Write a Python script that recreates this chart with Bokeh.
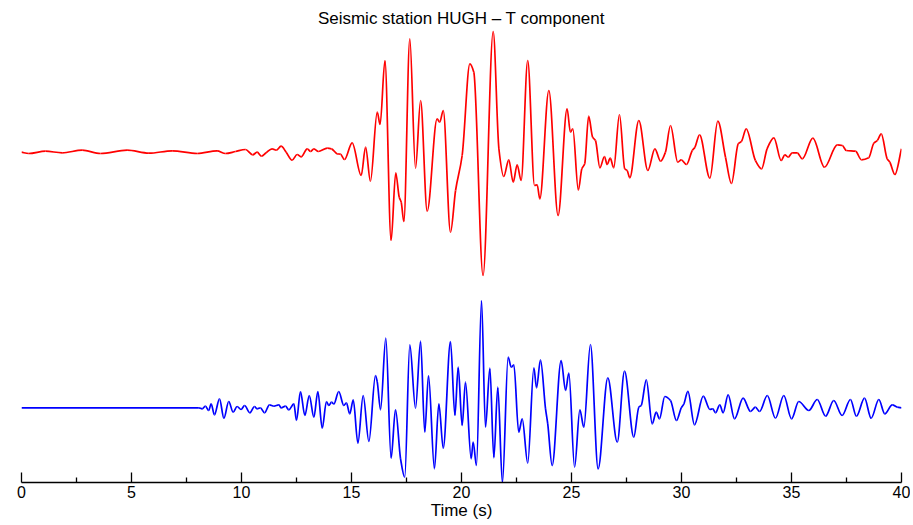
from bokeh.plotting import figure
from bokeh.models import Range1d, FixedTicker, Label, LinearAxis
from bokeh.embed import file_html
from bokeh.resources import INLINE

# ---- data (time in s, amplitude in arbitrary units) ----
red_t = [0.00, 0.33, 1.09, 1.85, 2.76, 3.59, 4.80, 5.79, 6.85, 7.99, 8.89, 9.27, 9.73,
         10.18, 10.51, 10.71, 10.91, 11.12, 11.39, 11.58, 11.80, 12.03, 12.30, 12.53, 12.71,
         12.99, 13.14, 13.29, 13.49, 13.90, 14.09, 14.35, 14.50, 14.68, 15.03, 15.44, 15.64,
         15.86, 16.17, 16.30, 16.52, 16.80, 17.01, 17.17, 17.26, 17.38, 17.65, 17.91, 18.14,
         18.44, 18.89, 19.01, 19.17, 19.50, 19.73, 20.03, 20.38, 20.56, 20.98, 21.44, 21.70,
         21.92, 22.15, 22.35, 22.53, 22.71, 23.01, 23.32, 23.44, 23.56, 23.97, 24.39, 24.80,
         24.95, 25.06, 25.31, 25.47, 25.60, 25.78, 25.96, 26.09, 26.29, 26.50, 26.62, 26.76,
         26.92, 27.18, 27.42, 27.53, 27.65, 28.06, 28.47, 28.79, 29.05, 29.27, 29.50, 29.83,
         29.99, 30.23, 30.49, 30.61, 30.82, 31.29, 31.65, 32.00, 32.27, 32.58, 32.73, 32.94,
         33.36, 33.64, 33.89, 34.20, 34.53, 34.70, 34.85, 35.03, 35.26, 35.49, 35.97, 36.50,
         37.08, 37.31, 37.49, 37.91, 38.18, 38.51, 38.74, 38.90, 39.08, 39.35, 39.47, 39.70,
         40.00]
red_a = [0.0, -1.3, 1.0, -0.6, 2.0, -1.3, 2.0, -1.0, 1.4, -1.3, 1.4, -1.3, 0.7,
         2.7, -2.6, 0.0, -4.0, -0.6, 3.4, 2.0, 6.0, 0.0, -8.0, -2.3, -4.6,
         3.4, 0.7, 3.4, 0.7, 4.0, 3.4, -1.6, -2.0, -7.3, 9.4, -23.3, 5.0,
         -29.0, 40.0, 27.7, 91.7, -88.3, -20.6, -45.0, -50.0, -69.3, 113.4, -16.0, 51.7,
         -59.0, 33.4, 30.0, 41.7, -80.0, -38.3, -3.3, 88.4, 80.0, -123.3, 120.7, 3.4,
         -24.3, -7.6, -30.0, -12.6, -28.3, 91.7, -33.3, -32.6, -46.6, 61.7, -63.3, 43.4,
         20.0, 23.4, -38.0, -16.6, -11.6, 36.0, 15.0, 11.7, -15.6, -4.3, -12.3, -6.0,
         -15.6, 37.7, -16.6, -18.3, -25.6, 31.7, -18.3, 3.4, -9.0, 0.0, 26.7, -10.0,
         -7.6, -12.3, 1.7, 5.0, 17.4, -26.0, 31.0, -5.0, -31.3, 8.4, 11.0, 23.4,
         -8.3, -16.6, 3.4, 14.4, -8.3, -2.6, -5.0, -0.6, -0.6, -6.6, 14.0, -15.0,
         7.4, 6.7, 1.7, 1.0, -7.6, -5.6, 9.0, 11.7, 18.4, -6.6, -10.0, -22.3,
         3.4]

blue_t = [0.00, 8.06, 8.21, 8.36, 8.51, 8.62, 8.77, 9.00, 9.20, 9.42, 9.62, 9.80, 9.98,
          10.14, 10.38, 10.59, 10.71, 10.86, 11.05, 11.27, 11.47, 11.70, 11.80, 12.00, 12.15,
          12.38, 12.50, 12.68, 12.88, 13.08, 13.29, 13.47, 13.67, 13.86, 13.97, 14.09, 14.20,
          14.42, 14.65, 14.77, 14.92, 15.08, 15.29, 15.53, 15.79, 16.09, 16.17, 16.32, 16.56,
          16.80, 17.00, 17.23, 17.42, 17.65, 17.91, 18.14, 18.33, 18.50, 18.77, 18.97, 19.17,
          19.50, 19.70, 19.85, 20.03, 20.18, 20.44, 20.53, 20.68, 20.91, 21.09, 21.29, 21.47,
          21.65, 21.86, 22.12, 22.26, 22.38, 22.60, 22.76, 23.01, 23.29, 23.41, 23.59, 23.82,
          23.92, 24.12, 24.53, 24.73, 24.88, 25.14, 25.38, 25.56, 25.86, 26.21, 26.65, 27.08,
          27.41, 27.83, 28.06, 28.17, 28.40, 28.67, 28.85, 29.00, 29.24, 29.50, 29.77, 29.99,
          30.11, 30.29, 30.59, 30.99, 31.29, 31.42, 31.55, 31.74, 31.89, 32.12, 32.41, 32.80,
          33.14, 33.36, 33.55, 33.90, 34.27, 34.65, 35.00, 35.33, 35.79, 36.17, 36.55, 36.92,
          37.30, 37.68, 37.95, 38.32, 38.62, 38.97, 39.24, 39.58, 39.81, 40.00]
blue_a = [0.0, 0.0, -1.0, 1.7, -2.7, 4.0, -7.0, 9.0, -10.4, 6.3, -4.4, 1.3, -1.7,
          2.3, -5.0, 1.3, -1.0, 0.0, -5.0, 3.0, 1.7, 3.0, 0.0, 1.7, -2.0,
          4.0, -12.7, 16.3, -7.7, 12.3, -9.4, 16.3, -20.4, 6.3, 2.3, 5.6, 3.9,
          16.3, 2.3, 5.0, -6.0, 8.0, -35.4, 12.3, -33.7, 32.3, 26.0, -2.0, 69.6,
          -50.4, -1.7, -51.0, -69.4, 63.0, -0.4, 66.6, -24.4, 32.3, -61.0, 4.0, -40.4,
          66.3, -7.7, 40.6, -17.7, 25.6, -51.0, -34.4, -57.7, 107.3, -19.4, 39.6, -50.0,
          20.6, -75.0, 50.6, 40.6, 43.0, -24.4, -11.0, -55.4, 40.0, 20.0, 48.0, -1.0,
          -16.0, -57.7, 47.3, 17.3, 34.6, -59.4, -2.0, -19.4, 63.3, -61.0, 30.0, -34.4,
          36.6, -29.4, 0.6, 2.3, 28.0, -16.0, -4.4, -11.0, 11.3, 7.3, -12.7, 0.0,
          4.0, 16.4, -17.0, 11.6, -1.7, -1.0, -5.0, 3.0, -5.0, 13.0, -11.0, 9.6,
          -3.7, 0.6, -3.7, 12.3, -10.4, 12.3, -11.0, 6.3, -2.7, 8.3, -8.4, 7.3,
          -7.7, 8.3, -8.4, 9.6, -10.4, 8.3, -6.0, 3.0, 0.6, 0.0]

major_ticks = [0, 5, 10, 15, 20, 25, 30, 35, 40]
minor_ticks = [2.5, 7.5, 12.5, 17.5, 22.5, 27.5, 32.5, 37.5]
title_text = "Seismic station HUGH \u2013 T component"
xlabel_text = "Time (s)"

# ---- layout / style ----
RED_OFFSET = 330.3
BLUE_OFFSET = 74.7
FONT = "Liberation Sans"


def smooth_segments(t, y):
    """Monotone cubic (Fritsch-Carlson) segments through the read points, as Bezier glyph data."""
    n = len(t)
    h = [t[k + 1] - t[k] for k in range(n - 1)]
    d = [(y[k + 1] - y[k]) / h[k] for k in range(n - 1)]
    m = [0.0] * n
    m[0] = d[0]
    m[-1] = d[-1]
    for k in range(1, n - 1):
        if d[k - 1] * d[k] <= 0:
            m[k] = 0.0
        else:
            w1 = 2 * h[k] + h[k - 1]
            w2 = h[k] + 2 * h[k - 1]
            m[k] = (w1 + w2) / (w1 / d[k - 1] + w2 / d[k])
    seg = dict(x0=[], y0=[], x1=[], y1=[], cx0=[], cy0=[], cx1=[], cy1=[])
    for k in range(n - 1):
        seg["x0"].append(t[k]); seg["y0"].append(y[k])
        seg["x1"].append(t[k + 1]); seg["y1"].append(y[k + 1])
        seg["cx0"].append(t[k] + h[k] / 3); seg["cy0"].append(y[k] + m[k] * h[k] / 3)
        seg["cx1"].append(t[k + 1] - h[k] / 3); seg["cy1"].append(y[k + 1] - m[k + 1] * h[k] / 3)
    return seg


p = figure(width=910, height=524, x_range=Range1d(0, 40), y_range=Range1d(0, 482),
           output_backend="svg", toolbar_location=None,
           x_axis_type=None, y_axis_type=None,
           min_border_left=21, min_border_right=9, min_border_top=0, min_border_bottom=42)
p.outline_line_color = None
p.background_fill_color = "white"
p.border_fill_color = "white"

axis = LinearAxis(ticker=FixedTicker(ticks=major_ticks, minor_ticks=minor_ticks),
                  axis_label=xlabel_text, axis_label_standoff=0,
                  axis_label_text_font=FONT, axis_label_text_font_size="17px",
                  axis_label_text_font_style="normal", axis_label_text_color="black",
                  major_tick_in=10, major_tick_out=0, minor_tick_in=5, minor_tick_out=0,
                  major_label_text_font=FONT, major_label_text_font_size="16px",
                  major_label_text_color="black",
                  major_label_standoff=3, axis_line_color="black", axis_line_width=1.3,
                  major_tick_line_color="black", minor_tick_line_color="black",
                  major_tick_line_width=1.3, minor_tick_line_width=1.3)
p.add_layout(axis, "below")

p.bezier(**smooth_segments(red_t, [RED_OFFSET + a for a in red_a]),
         line_color="red", line_width=1.7)
p.bezier(**smooth_segments(blue_t, [BLUE_OFFSET + a for a in blue_a]),
         line_color="blue", line_width=1.7)

p.add_layout(Label(x=20, y=464, text=title_text, text_align="center", text_baseline="middle",
                   text_font=FONT, text_font_size="17px", text_color="black"))

open("out.html", "w").write(file_html(p, INLINE))
